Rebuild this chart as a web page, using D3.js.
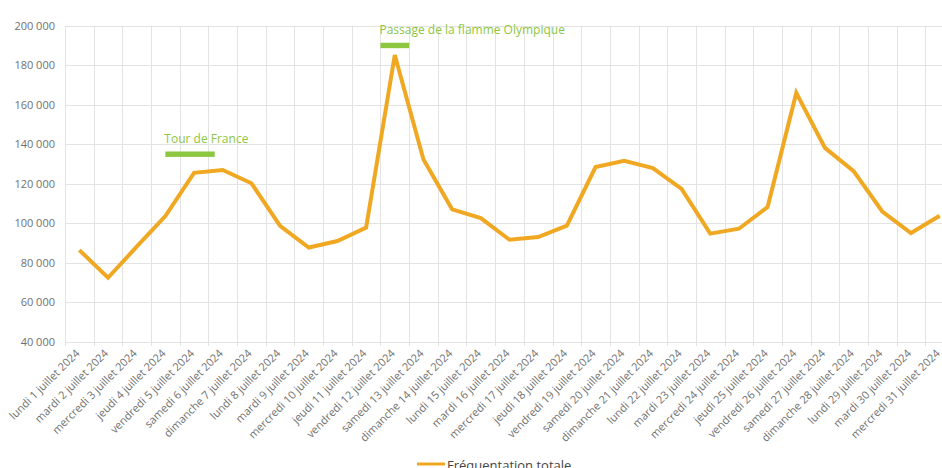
<!DOCTYPE html>
<html>
<head>
<meta charset="utf-8">
<script src="https://cdn.jsdelivr.net/npm/d3@7"></script>
<style>
  body { margin: 0; background: #fff; }
  svg { display: block; font-family: "Open Sans", sans-serif; }
  .grid line { stroke: #e3e3e3; stroke-width: 1; }
  .axis text { fill: #707070; font-size: 11px; }
</style>
</head>
<body>
<script>
//days of july 2024 (x categories)
var days = ["lundi 1 juillet 2024", "mardi 2 juillet 2024", "mercredi 3 juillet 2024", "jeudi 4 juillet 2024",
  "vendredi 5 juillet 2024", "samedi 6 juillet 2024", "dimanche 7 juillet 2024", "lundi 8 juillet 2024",
  "mardi 9 juillet 2024", "mercredi 10 juillet 2024", "jeudi 11 juillet 2024", "vendredi 12 juillet 2024",
  "samedi 13 juillet 2024", "dimanche 14 juillet 2024", "lundi 15 juillet 2024", "mardi 16 juillet 2024",
  "mercredi 17 juillet 2024", "jeudi 18 juillet 2024", "vendredi 19 juillet 2024", "samedi 20 juillet 2024",
  "dimanche 21 juillet 2024", "lundi 22 juillet 2024", "mardi 23 juillet 2024", "mercredi 24 juillet 2024",
  "jeudi 25 juillet 2024", "vendredi 26 juillet 2024", "samedi 27 juillet 2024", "dimanche 28 juillet 2024",
  "lundi 29 juillet 2024", "mardi 30 juillet 2024", "mercredi 31 juillet 2024"];

//daily total attendance
var frequentation = [86500, 72500, 88200, 103700, 125600, 127000, 120300, 98700,
  87800, 91100, 97900, 185200, 132300, 107100, 102700, 91700,
  93100, 98900, 128500, 131600, 128000, 117400, 94800, 97300,
  108300, 166000, 138200, 126400, 106000, 95100, 103900];

//y ticks
var yTicks = [40000, 60000, 80000, 100000, 120000, 140000, 160000, 180000, 200000];

//events: label, first day, last day (day index, may be fractional)
var events = [
  {label: "Tour de France", from: 3, to: 4.72, value: 135000},
  {label: "Passage de la flamme Olympique", from: 10.5, to: 11.5, value: 190000}
];

var seriesName = "Fréquentation totale";

window.onload = draw();

function draw(){
  var width = 942, height = 468;
  var left = 65, top = 25.7, bottom = 342, right = 954;

  var svg = d3.select("body").append("svg")
    .attr("width", width)
    .attr("height", height);

  var x = d3.scaleBand().domain(days).range([left, right]).padding(0);
  var y = d3.scaleLinear().domain([40000, 200000]).range([bottom, top]);
  //index scale, category centres
  var xi = d3.scaleLinear().domain([0, days.length - 1])
    .range([x(days[0]) + x.bandwidth() / 2, x(days[days.length - 1]) + x.bandwidth() / 2]);

  var fmt = function(d){ return d3.format(",")(d).replace(/,/g, " "); };

  //horizontal grid
  svg.append("g").attr("class", "grid")
    .selectAll("line").data(yTicks).enter().append("line")
    .attr("x1", left).attr("x2", width)
    .attr("y1", function(d){ return Math.round(y(d)) + 0.5; })
    .attr("y2", function(d){ return Math.round(y(d)) + 0.5; });

  //vertical grid at band edges
  svg.append("g").attr("class", "grid")
    .selectAll("line").data(days).enter().append("line")
    .attr("x1", function(d){ return Math.round(x(d)) + 0.5; })
    .attr("x2", function(d){ return Math.round(x(d)) + 0.5; })
    .attr("y1", top).attr("y2", bottom + 4);

  //y axis labels
  svg.append("g").attr("class", "axis")
    .selectAll("text").data(yTicks).enter().append("text")
    .attr("x", 55).attr("y", function(d){ return y(d) + 4; })
    .attr("text-anchor", "end")
    .text(fmt);

  //x axis labels
  svg.append("g").attr("class", "axis")
    .selectAll("text").data(days).enter().append("text")
    .attr("text-anchor", "end")
    .attr("transform", function(d, i){ return "translate(" + (xi(i) + 1) + "," + (bottom + 12) + ") rotate(-45)"; })
    .text(function(d){ return d; });

  //events
  var ev = svg.append("g");
  ev.selectAll("rect").data(events).enter().append("rect")
    .attr("x", function(d){ return xi(d.from); })
    .attr("width", function(d){ return xi(d.to) - xi(d.from); })
    .attr("y", function(d){ return y(d.value) - 2.7; })
    .attr("height", 5.4)
    .attr("fill", "#8dc63f");
  ev.selectAll("text").data(events).enter().append("text")
    .attr("x", function(d){ return xi(d.from) - 1; })
    .attr("y", function(d){ return y(d.value) - 11; })
    .attr("fill", "#8dc63f")
    .style("font-size", "12px")
    .text(function(d){ return d.label; });

  //line
  var line = d3.line()
    .x(function(d, i){ return xi(i); })
    .y(function(d){ return y(d); });

  svg.append("path")
    .datum(frequentation)
    .attr("d", line)
    .attr("fill", "none")
    .attr("stroke", "#f0a823")
    .attr("stroke-width", 4)
    .attr("stroke-linejoin", "miter");

  //legend
  var lg = svg.append("g").attr("transform", "translate(417,464)");
  lg.append("line").attr("x1", 0).attr("x2", 28).attr("y1", 0).attr("y2", 0)
    .attr("stroke", "#f0a823").attr("stroke-width", 3);
  lg.append("text").attr("x", 30).attr("y", 6)
    .attr("fill", "#444").style("font-size", "13px")
    .text(seriesName);
}
</script>
</body>
</html>
